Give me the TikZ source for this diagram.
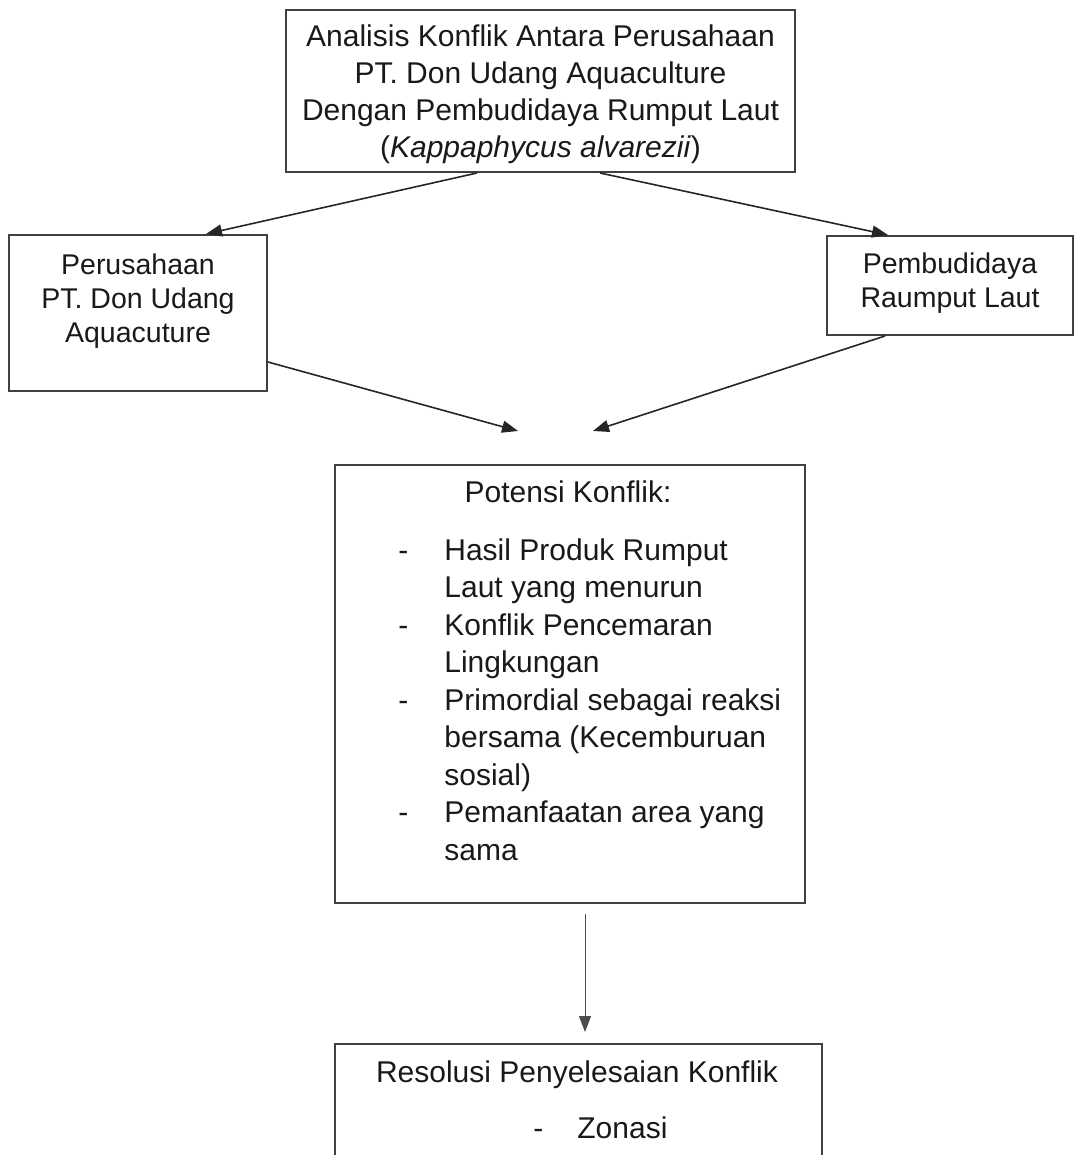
\documentclass[tikz,border=0pt]{standalone}
\usepackage{fontspec}
\setmainfont{Liberation Sans}
\usetikzlibrary{arrows.meta,positioning}

\newcommand{\butir}{\makebox[23pt][l]{-}}
\newcommand{\lanjut}{\hspace*{23pt}}

\tikzset{
    kotak/.style={draw=black!75, line width=1pt, inner sep=0pt},
    teks/.style={text=black!90, inner sep=0pt, align=center,
        font=\fontsize{15}{18.6}\selectfont},
    teks kecil/.style={teks, font=\fontsize{14.25}{16.9}\selectfont},
    panah/.style={-{Triangle[length=8pt,width=6pt]}, line width=0.8pt, draw=black!85},
}

\begin{document}
\begin{tikzpicture}[x=0.5pt, y=-0.5pt]
    % page size, the last box runs off the bottom
    \path[use as bounding box] (0,0) rectangle (1075,1155);
    \clip (0,0) rectangle (1075,1155);

    % Boxes:
    \node[kotak, minimum width=254.5pt, minimum height=81pt] (atas) at (540.5,91) {};
    \node[kotak, minimum width=129pt, minimum height=78pt] (kiri) at (138,313) {};
    \node[kotak, minimum width=123pt, minimum height=49.5pt] (kanan) at (950,285.5) {};
    \node[kotak, minimum width=235pt, minimum height=219pt] (potensi) at (570,684) {};
    \node[kotak, minimum width=243.5pt, minimum height=78pt] (resolusi) at (578.5,1122) {};

    % Texts (base = last line):
    \node[teks, anchor=base] (judul) at (540.5,158)
        {Analisis Konflik Antara Perusahaan\\
         PT. Don Udang Aquaculture\\
         Dengan Pembudidaya Rumput Laut\\
         (\textit{Kappaphycus alvarezii})};
    \node[teks kecil, anchor=base] (perusahaan) at (138,342)
        {Perusahaan\\PT. Don Udang\\Aquacuture};
    \node[teks kecil, anchor=base] (pembudidaya) at (950,307)
        {Pembudidaya\\Raumput Laut};
    \node[teks, anchor=base] (judul potensi) at (568,502) {Potensi Konflik:};
    \node[teks, anchor=base west, align=left,
        font=\fontsize{15}{18.75}\selectfont] (daftar) at (398,860)
        {\butir Hasil Produk Rumput\\
         \lanjut Laut yang menurun\\
         \butir Konflik Pencemaran\\
         \lanjut Lingkungan\\
         \butir Primordial sebagai reaksi\\
         \lanjut bersama (Kecemburuan\\
         \lanjut sosial)\\
         \butir Pemanfaatan area yang\\
         \lanjut sama};
    \node[teks, anchor=base] (judul resolusi) at (577,1082) {Resolusi Penyelesaian Konflik};
    \node[teks, anchor=base west] (zonasi) at (533,1138) {\makebox[22pt][l]{-}Zonasi};

    % Arrows:
    \coordinate (temu kiri) at (518,431);
    \coordinate (temu kanan) at (593,431);
    \draw[panah] (atas.south -| 477,0) -- (kiri.north -| 206,0);
    \draw[panah] (atas.south -| 600,0) -- (kanan.north -| 888,0);
    \draw[panah] (kiri.east |- 0,362) -- (temu kiri);
    \draw[panah] (kanan.south -| 885,0) -- (temu kanan);
    \draw[panah, line width=0.5pt, draw=black!70, shorten <=5pt, shorten >=5.5pt]
        (potensi.south -| 585,0) -- (resolusi.north -| 585,0);
\end{tikzpicture}
\end{document}
